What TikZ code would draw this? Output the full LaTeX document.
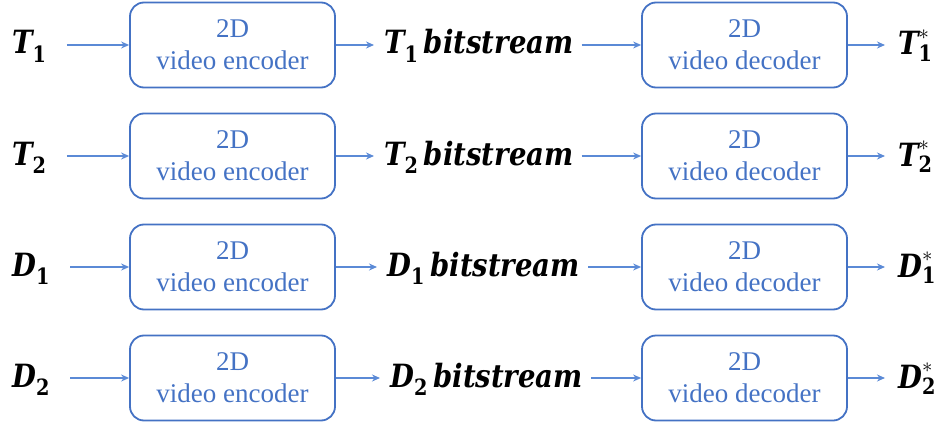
\documentclass[tikz,border=0pt]{standalone}
\usepackage{fontspec}
\usepackage{amsmath}
\newfontfamily\boxfont{Liberation Serif}
\newfontfamily\labfont{DejaVu Serif}[FakeStretch=0.86]
\usetikzlibrary{arrows.meta}
\definecolor{boxblue}{HTML}{4472C4}
\definecolor{arrblue}{HTML}{5B8AD6}
\newcommand{\lbl}[2]{\ensuremath{\text{\labfont\bfseries\itshape #1}_{\text{\labfont\bfseries #2}}}}
\newcommand{\lblst}[2]{\ensuremath{\text{\labfont\bfseries\itshape #1}_{\text{\labfont\bfseries #2}}^{*}}}
\begin{document}
\begin{tikzpicture}[x=1pt,y=-1pt,
  codec/.style={draw=boxblue, line width=1.8pt, rounded corners=14pt,
    minimum width=205pt, minimum height=85pt, align=center, text=boxblue,
    font=\boxfont\fontsize{27}{32}\selectfont, inner sep=0pt},
  lab/.style={font=\fontsize{32}{38}\selectfont, inner sep=0pt, anchor=base west},
  arr/.style={draw=arrblue, line width=1.2pt, -{Stealth[length=8pt,width=7pt]}}]
\useasboundingbox (0,0) rectangle (947,425);
\foreach \r/\y/\A/\n/\bx in {1/45/T/1/384, 2/156/T/2/384, 3/267/D/1/387, 4/378/D/2/390}{
  \node[codec] (enc\r) at (232.5,\y) {2D\\video encoder};
  \node[codec] (dec\r) at (744.5,\y) {2D\\video decoder};
  \node[lab] (in\r) at (12,\y+9) {\lbl{\A}{\n}};
  \node[lab] (bs\r) at (\bx,\y+9) {\lbl{\A}{\n}\,{\labfont\bfseries\itshape bitstream}};
  \node[lab] (out\r) at (898,\y+10) {\lblst{\A}{\n}};
  \draw[arr, shorten <=20pt] (in\r.east |- enc\r.west) -- (enc\r.west);
  \draw[arr, shorten >=10pt] (enc\r.east) -- (bs\r.west |- enc\r.east);
  \draw[arr, shorten <=8pt] (bs\r.east |- dec\r.west) -- (dec\r.west);
  \draw[arr, shorten >=13pt] (dec\r.east) -- (out\r.west |- dec\r.east);
}
\end{tikzpicture}
\end{document}
